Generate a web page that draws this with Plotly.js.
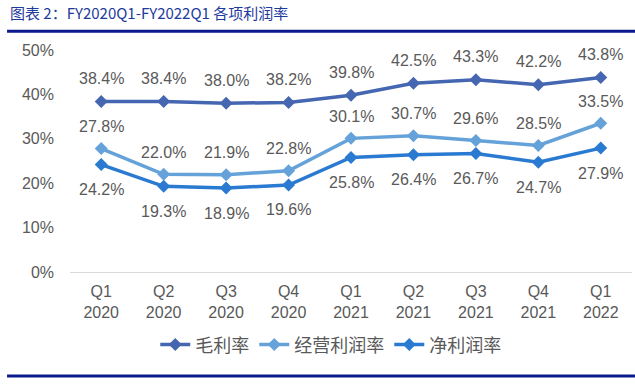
<!DOCTYPE html>
<html>
<head>
<meta charset="utf-8">
<script src="https://cdn.plot.ly/plotly-3.0.1.min.js"></script>
<style>html,body{margin:0;padding:0;background:#fff;}#chart{width:635px;height:389px;}</style>
</head>
<body>
<div id="chart"></div>
<script>
const categories = ["Q1<br>2020","Q2<br>2020","Q3<br>2020","Q4<br>2020","Q1<br>2021","Q2<br>2021","Q3<br>2021","Q4<br>2021","Q1<br>2022"];
const grossMargin = [38.4, 38.4, 38.0, 38.2, 39.8, 42.5, 43.3, 42.2, 43.8];
const operatingMargin = [27.8, 22.0, 21.9, 22.8, 30.1, 30.7, 29.6, 28.5, 33.5];
const netMargin = [24.2, 19.3, 18.9, 19.6, 25.8, 26.4, 26.7, 24.7, 27.9];
const seriesNames = ["毛利率", "经营利润率", "净利润率"];
const yTickVals = [0, 10, 20, 30, 40, 50];
const yTickText = ["0%", "10%", "20%", "30%", "40%", "50%"];
const titleText = "图表 2：FY2020Q1-FY2022Q1 各项利润率";

const colors = ["#4566B0", "#65A2D9", "#2A7AD2"];
const series = [grossMargin, operatingMargin, netMargin];
const shifts = [23, 22, -25];

const traces = series.map((vals, i) => ({
  type: "scatter", mode: "lines+markers", name: seriesNames[i],
  x: categories, y: vals,
  line: {color: colors[i], width: 3.5},
  marker: {symbol: "diamond", size: 10, color: colors[i]}
}));

const annotations = [];
series.forEach((vals, i) => {
  vals.forEach((v, j) => {
    annotations.push({
      x: categories[j], y: v, xref: "x", yref: "y",
      text: v.toFixed(1) + "%", showarrow: false,
      yshift: shifts[i], yanchor: "middle",
      font: {family: "Liberation Sans, Arial, sans-serif", size: 16, color: "#595959"}
    });
  });
});
annotations.push({
  xref: "paper", yref: "paper", x: -0.11, y: 1.168, xanchor: "left", yanchor: "middle",
  text: titleText, showarrow: false,
  font: {family: "Noto Sans CJK SC, sans-serif", size: 15, color: "#1E3A9C"}
});

const layout = {
  width: 635, height: 389,
  margin: {l: 70, r: 3, t: 50, b: 117},
  paper_bgcolor: "#fff", plot_bgcolor: "#fff",
  showlegend: true,
  legend: {orientation: "h", x: 0.464, xanchor: "center", y: -0.245, yanchor: "top",
    font: {family: "Noto Sans CJK SC, sans-serif", size: 18, color: "#595959"},
    itemwidth: 30, tracegroupgap: 0},
  xaxis: {type: "category", range: [-0.5, 8.5], showgrid: false, zeroline: false,
    showline: false, ticks: "", ticklabelstandoff: 8,
    tickfont: {family: "Liberation Sans, Arial, sans-serif", size: 16, color: "#595959"}},
  yaxis: {range: [0, 50], tickvals: yTickVals, ticktext: yTickText, showgrid: false,
    zeroline: true, zerolinecolor: "#D9D9D9", zerolinewidth: 1, showline: false, ticks: "",
    ticklabelstandoff: 15,
    tickfont: {family: "Liberation Sans, Arial, sans-serif", size: 16, color: "#595959"}},
  annotations: annotations,
  shapes: [
    {type: "line", xref: "paper", yref: "paper", x0: -0.112, x1: 1.01, y0: 1.084, y1: 1.084,
      line: {color: "#0A1A8C", width: 3}},
    {type: "line", xref: "paper", yref: "paper", x0: -0.112, x1: 1.01, y0: -0.468, y1: -0.468,
      line: {color: "#0A1A8C", width: 3}}
  ]
};

Plotly.newPlot("chart", traces, layout, {displayModeBar: false, staticPlot: true});
</script>
</body>
</html>
